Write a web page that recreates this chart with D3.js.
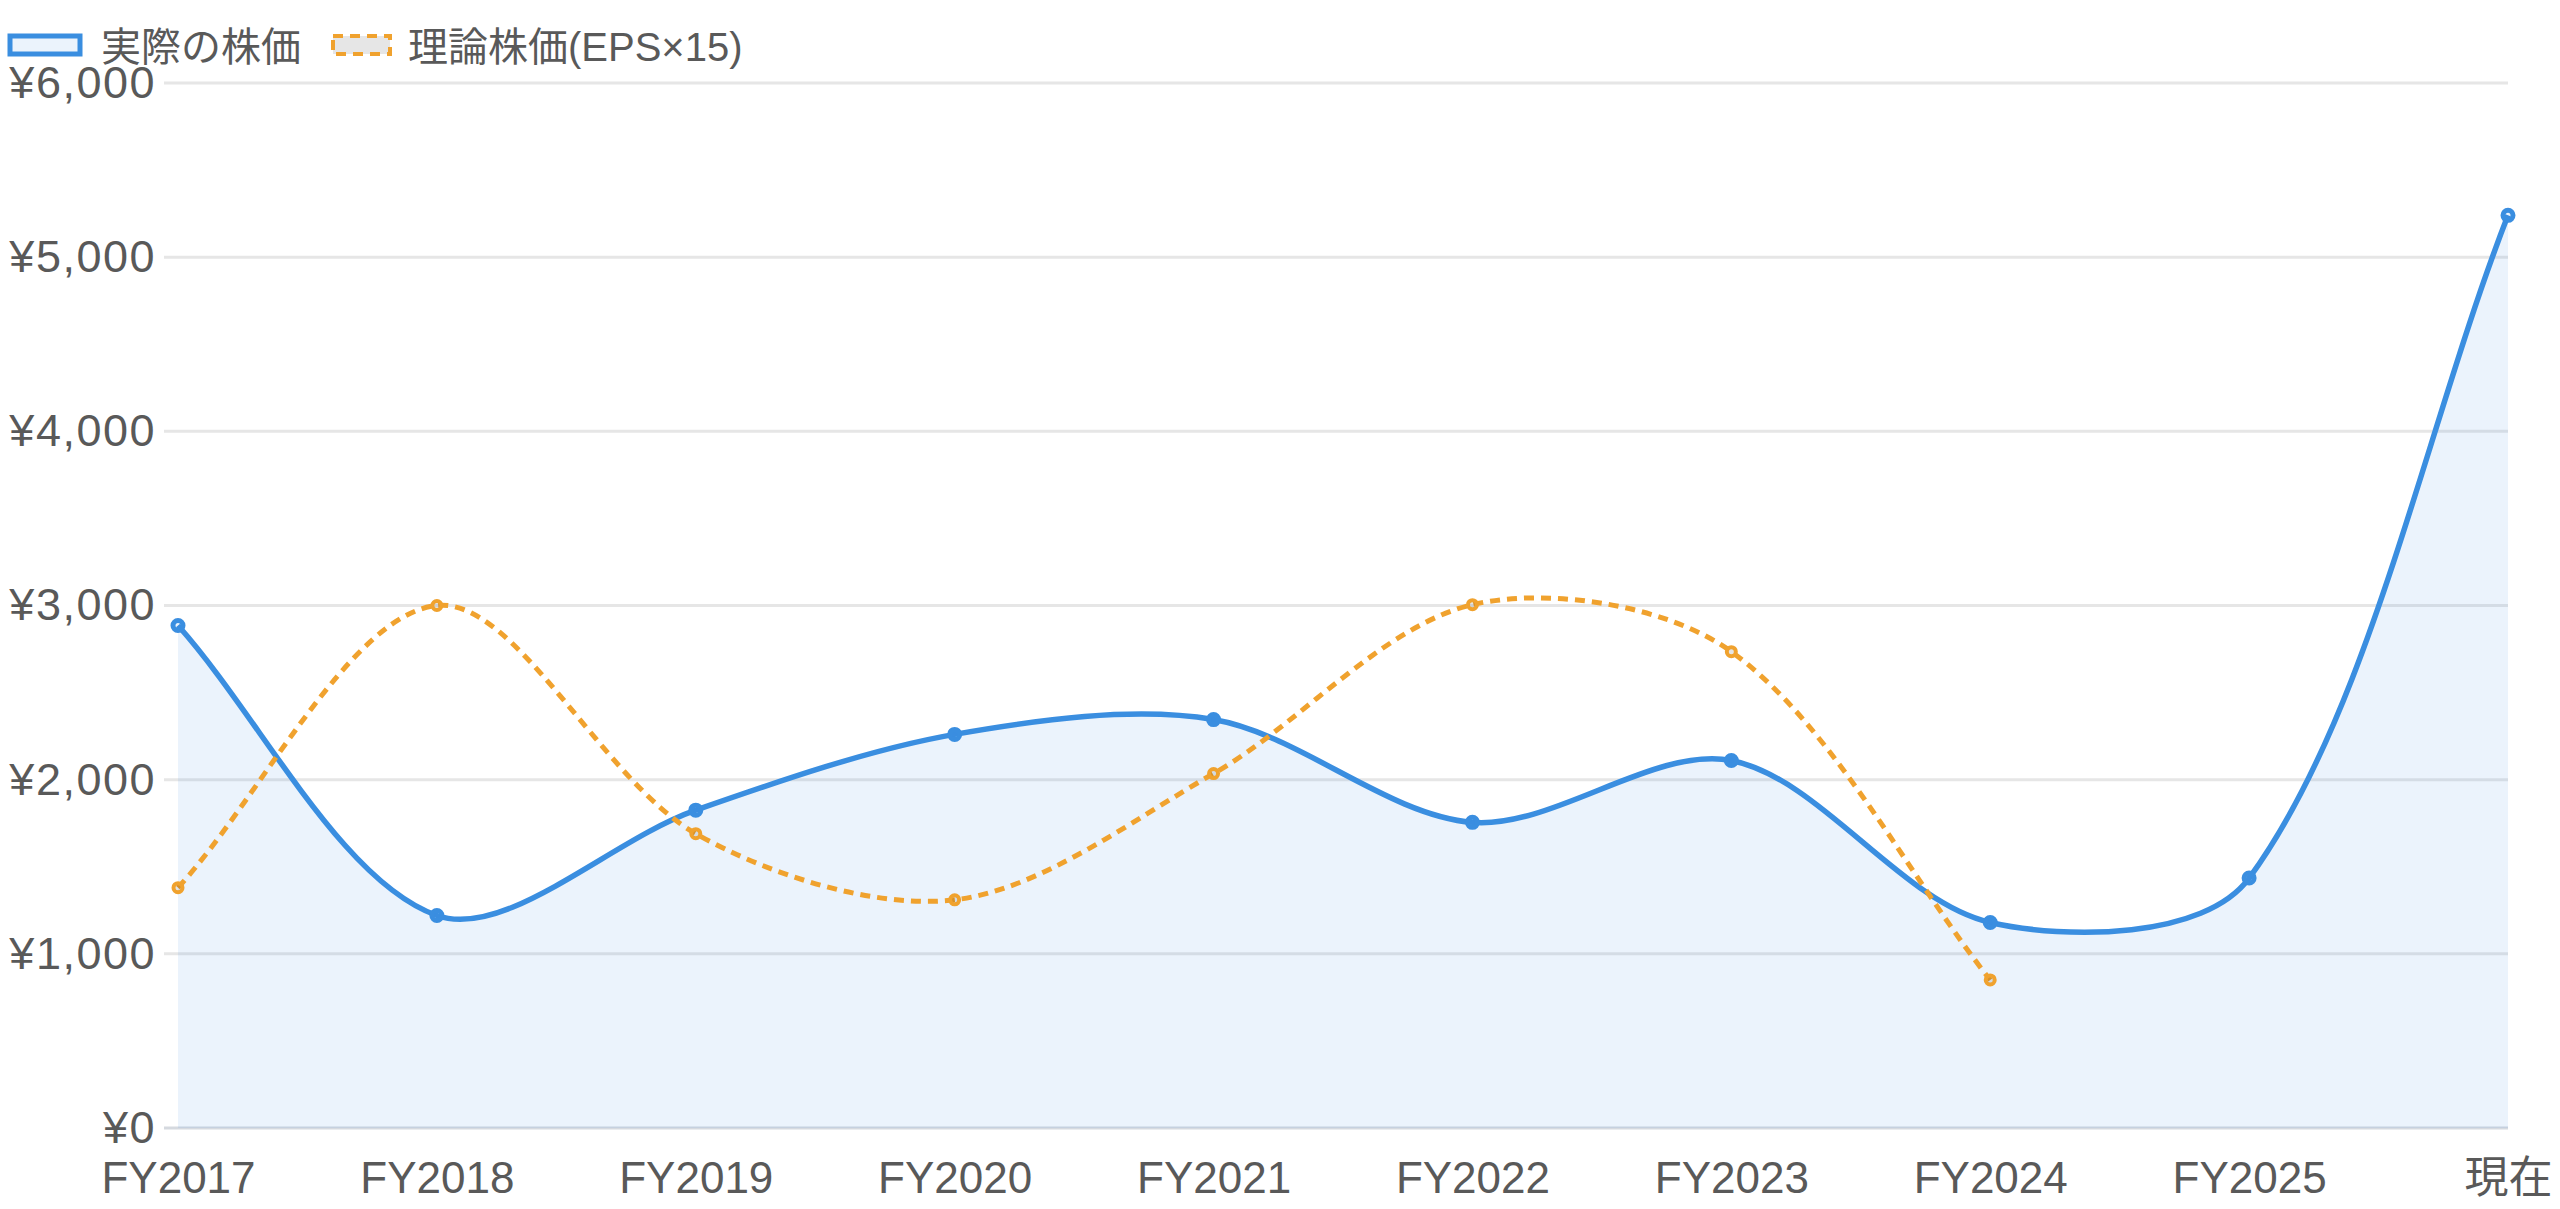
<!DOCTYPE html>
<html><head><meta charset="utf-8">
<script src="https://cdn.jsdelivr.net/npm/d3@7"></script>
<style>
html,body{margin:0;padding:0;background:#fff;}
svg{display:block;}
text{font-family:"Liberation Sans",Arial,"Noto Sans CJK JP",sans-serif;fill:#595959;}
</style></head>
<body>
<svg id="chart" width="2560" height="1209"></svg>
<script>
const categories = ["FY2017","FY2018","FY2019","FY2020","FY2021","FY2022","FY2023","FY2024","FY2025","現在"];
const actualPrice = [2885,1220,1825,2260,2345,1755,2110,1180,1435,5240];
const theoreticalPrice = [1380,3000,1690,1310,2035,3005,2735,850,null,null];
const seriesNames = ["実際の株価","理論株価(EPS×15)"];
const yTicks = [0,1000,2000,3000,4000,5000,6000];

const W = 2560, H = 1209;
const area = {left:178, right:2508, top:83, bottom:1128};
const blue = "#3a8ee0", orange = "#f0a22e";
const tension = 0.32;

const svg = d3.select("#chart");
const x = d3.scalePoint().domain(categories).range([area.left, area.right]);
const y = d3.scaleLinear().domain([0,6000]).range([area.bottom, area.top]);
const fmt = v => "¥" + d3.format(",")(v);

// grid
const grid = svg.append("g");
grid.selectAll("line").data(yTicks).enter().append("line")
  .attr("x1", area.left - 14).attr("x2", area.right)
  .attr("y1", d => y(d)).attr("y2", d => y(d))
  .attr("stroke", d => d === 0 ? "#d5d9df" : "#e6e6e6")
  .attr("stroke-width", 3);

// y axis labels
const yAxis = svg.append("g").attr("transform", `translate(${area.left - 22},0)`)
  .call(d3.axisLeft(y).tickValues(yTicks).tickFormat(fmt).tickSize(0).tickPadding(0));
yAxis.select(".domain").remove();
yAxis.selectAll("text").attr("font-size", 45).attr("fill", "#595959")
  .attr("font-family", '"Liberation Sans",Arial,sans-serif').attr("letter-spacing", 1.5);

// x axis labels
const xAxis = svg.append("g").attr("transform", `translate(0,${area.bottom})`)
  .call(d3.axisBottom(x).tickSize(0).tickPadding(34));
xAxis.select(".domain").remove();
xAxis.selectAll("text").attr("font-size", 44).attr("fill", "#595959")
  .attr("font-family", '"Liberation Sans",Arial,"Noto Sans CJK JP",sans-serif');

// Chart.js-like spline
function splinePoints(pts, t) {
  const res = pts.map(p => ({x:p.x, y:p.y}));
  for (let i = 0; i < pts.length; i++) {
    const prev = pts[i-1] || pts[i], cur = pts[i], next = pts[i+1] || pts[i];
    const d01 = Math.hypot(cur.x-prev.x, cur.y-prev.y);
    const d12 = Math.hypot(next.x-cur.x, next.y-cur.y);
    let s01 = d01/(d01+d12), s12 = d12/(d01+d12);
    if (!isFinite(s01)) s01 = 0; if (!isFinite(s12)) s12 = 0;
    const fa = t*s01, fb = t*s12;
    const clampX = v => Math.max(area.left, Math.min(area.right, v));
    const clampY = v => Math.max(area.top, Math.min(area.bottom, v));
    res[i].c1 = {x: clampX(cur.x - fa*(next.x-prev.x)), y: clampY(cur.y - fa*(next.y-prev.y))};
    res[i].c2 = {x: clampX(cur.x + fb*(next.x-prev.x)), y: clampY(cur.y + fb*(next.y-prev.y))};
  }
  return res;
}
function splinePath(pts) {
  const s = splinePoints(pts, tension);
  const p = d3.path();
  p.moveTo(s[0].x, s[0].y);
  for (let i = 1; i < s.length; i++) {
    p.bezierCurveTo(s[i-1].c2.x, s[i-1].c2.y, s[i].c1.x, s[i].c1.y, s[i].x, s[i].y);
  }
  return p.toString();
}

const actualPts = categories.map((c,i) => ({x:x(c), y:y(actualPrice[i])}));
const theoPts = categories.map((c,i) => theoreticalPrice[i] == null ? null : {x:x(c), y:y(theoreticalPrice[i])}).filter(d => d);

// area fill
const linePathA = splinePath(actualPts);
svg.append("path")
  .attr("d", linePathA + `L${actualPts[actualPts.length-1].x},${y(0)}L${actualPts[0].x},${y(0)}Z`)
  .attr("fill", "rgba(58,142,224,0.1)");

// actual line
svg.append("path").attr("d", linePathA).attr("fill","none")
  .attr("stroke", blue).attr("stroke-width", 5.5);

// theoretical line
svg.append("path").attr("d", splinePath(theoPts)).attr("fill","none")
  .attr("stroke", orange).attr("stroke-width", 5).attr("stroke-dasharray", "10,7");

// points
svg.append("g").selectAll("circle").data(actualPts).enter().append("circle")
  .attr("cx", d => d.x).attr("cy", d => d.y).attr("r", 5)
  .attr("fill", "rgba(58,142,224,0.1)").attr("stroke", blue).attr("stroke-width", 5);
svg.append("g").selectAll("circle").data(theoPts).enter().append("circle")
  .attr("cx", d => d.x).attr("cy", d => d.y).attr("r", 4.5)
  .attr("fill", "rgba(0,0,0,0.1)").attr("stroke", orange).attr("stroke-width", 4);

// legend
const lg = svg.append("g");
lg.append("rect").attr("x", 10).attr("y", 36).attr("width", 70).attr("height", 18)
  .attr("fill", "#ebf3fc").attr("stroke", blue).attr("stroke-width", 5);
lg.append("text").attr("x", 101).attr("y", 47).attr("dy", "0.35em")
  .attr("font-size", 40).text(seriesNames[0]);
lg.append("rect").attr("x", 333).attr("y", 36).attr("width", 57).attr("height", 18)
  .attr("fill", "#e6e6e6").attr("stroke", orange).attr("stroke-width", 4).attr("stroke-dasharray", "10,7");
lg.append("text").attr("x", 408).attr("y", 47).attr("dy", "0.35em")
  .attr("font-size", 40).text(seriesNames[1]);
</script>
</body></html>
